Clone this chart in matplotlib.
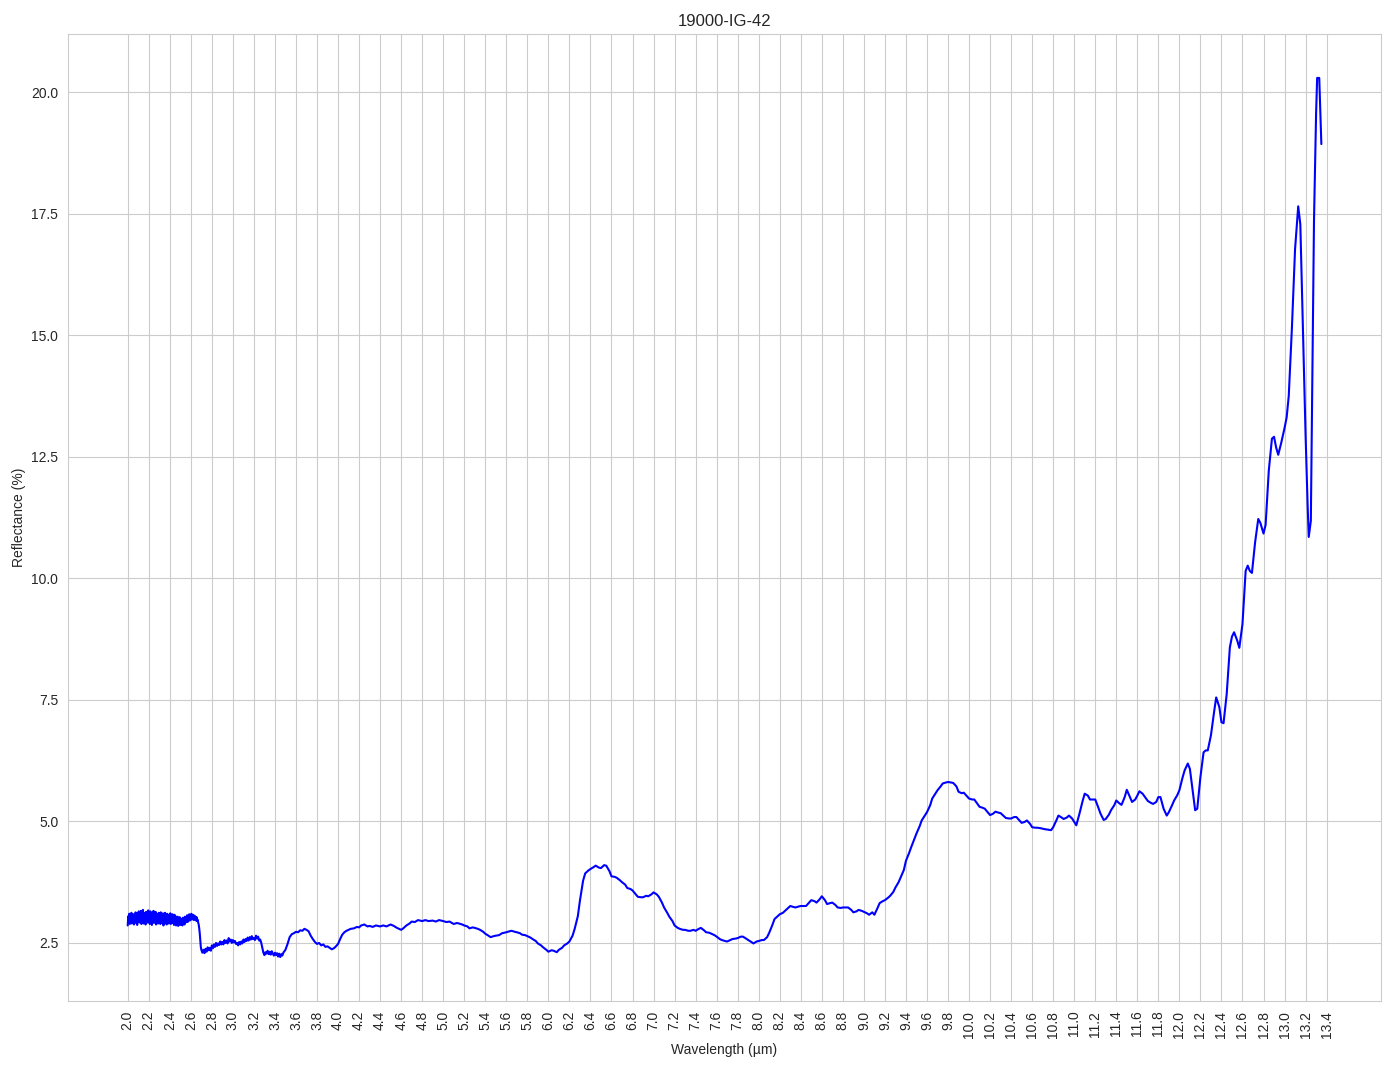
import numpy as np
import matplotlib
matplotlib.use('Agg')
import matplotlib.pyplot as plt
import seaborn as sns

sample_name = '19000-IG-42'

# noisy start of the spectrum (2.000 - 2.695 um, step 0.005)
wl_noisy = [round(2.0 + 0.005 * i, 3) for i in range(140)]
refl_noisy = [2.86, 3.05, 2.93, 3.10, 2.89, 3.02, 2.97, 3.12, 2.90, 3.07,
              2.94, 3.09, 2.88, 3.04, 2.96, 3.13, 2.91, 3.06, 2.87, 3.11,
              2.95, 3.15, 2.92, 3.08, 2.98, 3.16, 2.89, 3.10, 2.94, 3.18,
              2.90, 3.12, 2.97, 3.07, 2.88, 3.14, 2.95, 3.09, 2.92, 3.17,
              2.96, 3.11, 2.89, 3.15, 2.93, 3.06, 2.87, 3.13, 2.97, 3.16,
              2.91, 3.08, 2.95, 3.14, 2.88, 3.10, 2.96, 3.05, 2.90, 3.12,
              2.94, 3.09, 2.89, 3.13, 2.97, 3.06, 2.91, 3.11, 2.86, 3.07,
              2.95, 3.12, 2.92, 3.05, 2.88, 3.10, 2.96, 3.08, 2.90, 3.04,
              2.93, 3.11, 2.89, 3.06, 2.95, 3.09, 2.91, 3.03, 2.87, 3.08,
              2.90, 3.05, 2.86, 3.01, 2.92, 3.04, 2.85, 2.99, 2.89, 3.03,
              2.87, 3.00, 2.91, 2.98, 2.86, 3.02, 2.90, 2.97, 2.88, 3.04,
              2.92, 3.03, 2.95, 3.07, 2.93, 3.05, 2.98, 3.09, 2.96, 3.06,
              3.00, 3.10, 2.98, 3.08, 3.01, 3.07, 2.97, 3.06, 2.99, 3.04,
              2.96, 3.03, 2.95, 2.98, 2.92, 2.88, 2.80, 2.70, 2.55, 2.42]

# jittery part after the drop (2.70 - 3.50 um, step 0.01)
wl_jitter = [round(2.70 + 0.01 * i, 2) for i in range(81)]
refl_jitter = [2.36, 2.30, 2.36, 2.29, 2.38, 2.32, 2.41, 2.35, 2.40, 2.34,
               2.45, 2.39, 2.47, 2.42, 2.50, 2.44, 2.49, 2.46, 2.53, 2.47,
               2.52, 2.47, 2.56, 2.50, 2.55, 2.49, 2.60, 2.53, 2.57, 2.50,
               2.56, 2.51, 2.54, 2.48, 2.50, 2.45, 2.52, 2.47, 2.53, 2.49,
               2.57, 2.52, 2.58, 2.54, 2.61, 2.55, 2.62, 2.57, 2.64, 2.58,
               2.60, 2.56, 2.65, 2.59, 2.63, 2.55, 2.57, 2.50, 2.40, 2.30,
               2.25, 2.31, 2.28, 2.34, 2.27, 2.32, 2.26, 2.33, 2.28, 2.24,
               2.30, 2.25, 2.29, 2.22, 2.28, 2.21, 2.27, 2.24, 2.30, 2.33,
               2.36]

# rest of the spectrum
wl_rest = [3.52, 3.54, 3.56, 3.58, 3.60, 3.62,
           3.64, 3.66, 3.68, 3.70, 3.72, 3.74, 3.76, 3.78, 3.80, 3.82,
           3.84, 3.86, 3.88, 3.90, 3.92, 3.94, 3.96, 3.98, 4.00, 4.02,
           4.04, 4.06, 4.08, 4.10, 4.12, 4.15, 4.18, 4.20, 4.22, 4.25,
           4.28, 4.30, 4.33, 4.36, 4.40, 4.43, 4.46, 4.50, 4.53, 4.56,
           4.58, 4.60, 4.62, 4.65, 4.68, 4.70, 4.73, 4.76, 4.80, 4.83,
           4.86, 4.90, 4.93, 4.96, 5.00, 5.03, 5.06, 5.10, 5.13, 5.15,
           5.18, 5.20, 5.23, 5.25, 5.28, 5.30, 5.33, 5.35, 5.38, 5.40,
           5.43, 5.45, 5.48, 5.50, 5.53, 5.56, 5.60, 5.63, 5.65, 5.68,
           5.70, 5.73, 5.75, 5.78, 5.80, 5.83, 5.85, 5.88, 5.90, 5.93,
           5.95, 5.98, 6.00, 6.03, 6.05, 6.08, 6.10, 6.13, 6.15, 6.18,
           6.20, 6.23, 6.25, 6.28, 6.30, 6.33, 6.35, 6.38, 6.40, 6.43,
           6.45, 6.48, 6.50, 6.53, 6.55, 6.58, 6.60, 6.63, 6.65, 6.68,
           6.70, 6.73, 6.75, 6.78, 6.80, 6.83, 6.85, 6.88, 6.90, 6.93,
           6.95, 6.98, 7.00, 7.03, 7.05, 7.08, 7.10, 7.13, 7.15, 7.18,
           7.20, 7.23, 7.25, 7.28, 7.30, 7.33, 7.35, 7.38, 7.40, 7.43,
           7.45, 7.48, 7.50, 7.53, 7.55, 7.58, 7.60, 7.63, 7.65, 7.68,
           7.70, 7.73, 7.75, 7.78, 7.80, 7.83, 7.85, 7.88, 7.90, 7.93,
           7.95, 7.98, 8.00, 8.03, 8.05, 8.08, 8.10, 8.13, 8.15, 8.18,
           8.20, 8.23, 8.25, 8.28, 8.30, 8.33, 8.35, 8.38, 8.40, 8.43,
           8.45, 8.48, 8.50, 8.53, 8.55, 8.58, 8.60, 8.63, 8.65, 8.68,
           8.70, 8.73, 8.75, 8.78, 8.80, 8.83, 8.85, 8.88, 8.90, 8.93,
           8.95, 8.98, 9.00, 9.03, 9.05, 9.08, 9.10, 9.13, 9.15, 9.18,
           9.20, 9.23, 9.25, 9.28, 9.30, 9.33, 9.35, 9.38, 9.40, 9.43,
           9.45, 9.48, 9.50, 9.53, 9.55, 9.58, 9.60, 9.63, 9.65, 9.68,
           9.70, 9.73, 9.75, 9.78, 9.80, 9.83, 9.85, 9.88, 9.90, 9.93,
           9.95, 9.98, 10.00, 10.03, 10.05, 10.08, 10.10, 10.13, 10.15, 10.18,
           10.20, 10.23, 10.25, 10.28, 10.30, 10.33, 10.35, 10.38, 10.40, 10.43,
           10.45, 10.48, 10.50, 10.53, 10.55, 10.58, 10.60, 10.63, 10.65, 10.68,
           10.70, 10.72, 10.75, 10.78, 10.80, 10.83, 10.85, 10.88, 10.90, 10.93,
           10.95, 10.98, 11.00, 11.02, 11.05, 11.08, 11.10, 11.13, 11.15, 11.18,
           11.20, 11.23, 11.25, 11.28, 11.30, 11.33, 11.35, 11.38, 11.40, 11.43,
           11.45, 11.48, 11.50, 11.53, 11.55, 11.58, 11.60, 11.62, 11.65, 11.68,
           11.70, 11.73, 11.75, 11.78, 11.80, 11.82, 11.85, 11.88, 11.90, 11.93,
           11.95, 11.98, 12.00, 12.03, 12.05, 12.08, 12.10, 12.13, 12.15, 12.17,
           12.20, 12.23, 12.25, 12.27, 12.30, 12.33, 12.35, 12.38, 12.40, 12.42,
           12.45, 12.48, 12.50, 12.52, 12.55, 12.57, 12.60, 12.63, 12.65, 12.67,
           12.69, 12.72, 12.75, 12.77, 12.80, 12.82, 12.85, 12.88, 12.90, 12.92,
           12.94, 12.97, 13.00, 13.02, 13.04, 13.07, 13.10, 13.12, 13.13, 13.15,
           13.17, 13.20, 13.22, 13.23, 13.25, 13.26, 13.28, 13.30, 13.31, 13.33,
           13.35]
refl_rest = [2.48, 2.62, 2.68, 2.70, 2.73, 2.72,
             2.76, 2.75, 2.79, 2.77, 2.74, 2.65, 2.58, 2.52, 2.48, 2.50,
             2.45, 2.47, 2.42, 2.43, 2.40, 2.37, 2.39, 2.43, 2.48, 2.58,
             2.67, 2.72, 2.75, 2.77, 2.79, 2.80, 2.83, 2.82, 2.86, 2.88,
             2.84, 2.85, 2.83, 2.86, 2.84, 2.86, 2.84, 2.88, 2.85, 2.81,
             2.79, 2.77, 2.80, 2.86, 2.90, 2.94, 2.93, 2.97, 2.95, 2.97,
             2.95, 2.96, 2.94, 2.97, 2.95, 2.93, 2.94, 2.89, 2.91, 2.90,
             2.88, 2.86, 2.84, 2.80, 2.82, 2.81, 2.79, 2.77, 2.73, 2.69,
             2.65, 2.62, 2.64, 2.65, 2.66, 2.70, 2.72, 2.74, 2.75, 2.73,
             2.72, 2.70, 2.67, 2.66, 2.64, 2.61, 2.58, 2.54, 2.49, 2.45,
             2.41, 2.36, 2.32, 2.35, 2.34, 2.31, 2.36, 2.40, 2.45, 2.49,
             2.53, 2.65, 2.79, 3.05, 3.37, 3.78, 3.93, 3.99, 4.02, 4.06,
             4.09, 4.05, 4.04, 4.10, 4.09, 3.98, 3.87, 3.86, 3.84, 3.79,
             3.75, 3.70, 3.63, 3.61, 3.58, 3.50, 3.45, 3.44, 3.44, 3.47,
             3.46, 3.50, 3.54, 3.50, 3.45, 3.33, 3.23, 3.12, 3.04, 2.95,
             2.86, 2.81, 2.79, 2.77, 2.77, 2.75, 2.75, 2.77, 2.75, 2.79,
             2.81, 2.76, 2.72, 2.71, 2.69, 2.66, 2.63, 2.58, 2.56, 2.54,
             2.53, 2.56, 2.58, 2.59, 2.60, 2.63, 2.63, 2.59, 2.56, 2.52,
             2.49, 2.53, 2.54, 2.56, 2.56, 2.62, 2.71, 2.87, 2.99, 3.05,
             3.09, 3.12, 3.16, 3.22, 3.26, 3.24, 3.23, 3.25, 3.26, 3.26,
             3.26, 3.33, 3.38, 3.36, 3.33, 3.40, 3.46, 3.38, 3.30, 3.32,
             3.33, 3.28, 3.23, 3.22, 3.23, 3.23, 3.23, 3.18, 3.13, 3.15,
             3.18, 3.16, 3.14, 3.11, 3.08, 3.13, 3.08, 3.22, 3.32, 3.36,
             3.38, 3.43, 3.47, 3.55, 3.64, 3.75, 3.85, 4.00, 4.19, 4.35,
             4.47, 4.64, 4.75, 4.90, 5.02, 5.12, 5.19, 5.33, 5.47, 5.57,
             5.64, 5.72, 5.78, 5.80, 5.81, 5.80, 5.79, 5.72, 5.61, 5.58,
             5.59, 5.52, 5.47, 5.45, 5.45, 5.36, 5.30, 5.28, 5.26, 5.18,
             5.13, 5.16, 5.20, 5.18, 5.17, 5.11, 5.07, 5.06, 5.06, 5.09,
             5.09, 5.02, 4.97, 4.99, 5.02, 4.95, 4.88, 4.87, 4.87, 4.86,
             4.85, 4.84, 4.83, 4.82, 4.88, 5.02, 5.12, 5.08, 5.05, 5.08,
             5.12, 5.06, 4.99, 4.92, 5.16, 5.42, 5.57, 5.53, 5.45, 5.45,
             5.45, 5.28, 5.16, 5.03, 5.05, 5.14, 5.23, 5.33, 5.43, 5.37,
             5.34, 5.50, 5.65, 5.50, 5.40, 5.45, 5.53, 5.62, 5.57, 5.48,
             5.42, 5.38, 5.36, 5.40, 5.50, 5.50, 5.26, 5.12, 5.19, 5.33,
             5.43, 5.54, 5.64, 5.90, 6.05, 6.19, 6.08, 5.57, 5.23, 5.26,
             5.91, 6.42, 6.46, 6.46, 6.77, 7.25, 7.55, 7.35, 7.04, 7.02,
             7.62, 8.58, 8.80, 8.89, 8.72, 8.57, 9.06, 10.15, 10.26, 10.15,
             10.11, 10.74, 11.22, 11.14, 10.92, 11.10, 12.21, 12.87, 12.91, 12.69,
             12.54, 12.80, 13.09, 13.31, 13.75, 15.15, 16.77, 17.35, 17.65, 17.28,
             15.52, 12.94, 11.47, 10.85, 11.18, 13.31, 17.35, 19.56, 20.29, 20.29,
             18.93]

wavelength = np.array(wl_noisy + wl_jitter + wl_rest)
reflectance = np.array(refl_noisy + refl_jitter + refl_rest)

sns.set_style('whitegrid')
plt.rcParams['font.family'] = ['Liberation Sans', 'DejaVu Sans']

fig = plt.figure(figsize=(13.94, 10.69), dpi=100)
ax = fig.add_axes([0.0488, 0.0636, 0.9419, 0.9046])
ax.plot(wavelength, reflectance, color='blue', linewidth=1.5)

ticks = np.round(np.arange(2.0, 13.41, 0.2), 1)
ax.set_xticks(ticks)
ax.set_xticklabels([f'{t:.1f}' for t in ticks], rotation=90)
ax.set_xlabel('Wavelength (µm)')
ax.set_ylabel('Reflectance (%)')
ax.set_title(sample_name)

fig.savefig('out.png', dpi=100)
